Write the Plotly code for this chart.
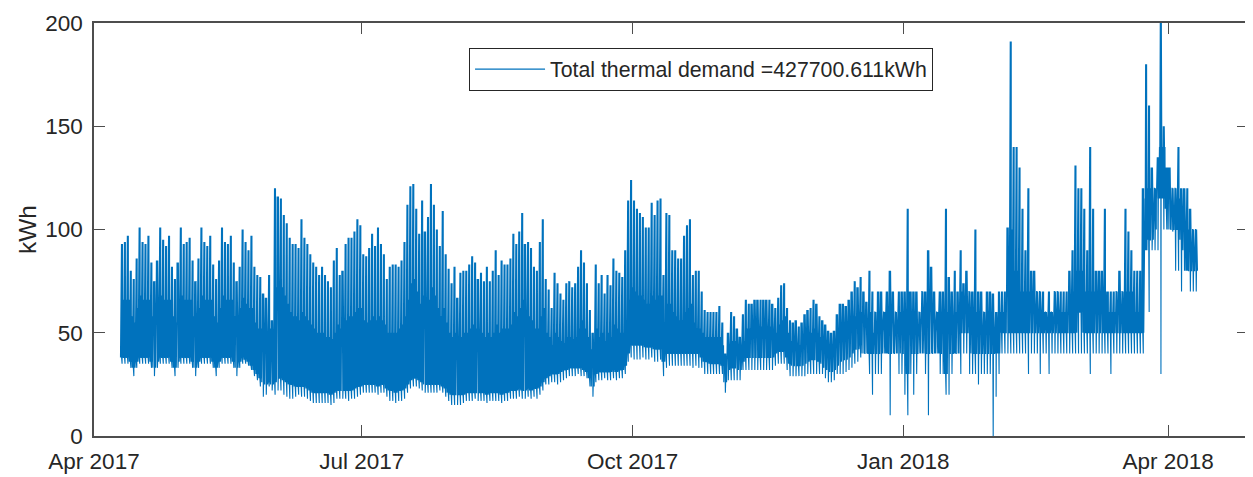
import plotly.graph_objects as go
import pandas as pd

# ---------------- data ----------------
start_date = "2017-04-10"

# daily maximum (kWh), one row per week starting Mon 10 Apr 2017
peak = [
    93, 94, 97, 80, 76, 86, 101,
    94, 93, 97, 84, 75, 85, 101,
    95, 92, 97, 82, 76, 84, 101,
    93, 94, 96, 85, 75, 86, 101,
    94, 92, 97, 83, 76, 85, 101,
    94, 93, 97, 84, 75, 82, 100,
    94, 90, 97, 82, 78, 77, 69,
    67, 78, 56, 120, 116, 115, 107,
    103, 96, 93, 93, 91, 105, 96,
    93, 88, 84, 82, 78, 82, 78,
    75, 72, 85, 91, 78, 80, 93,
    96, 96, 99, 105, 102, 88, 87,
    91, 98, 92, 101, 93, 88, 76,
    82, 83, 83, 82, 85, 94, 112,
    121, 122, 110, 98, 114, 99, 106,
    122, 112, 100, 92, 109, 88, 81,
    74, 82, 67, 79, 80, 80, 83,
    87, 84, 76, 79, 75, 82, 75,
    80, 90, 78, 85, 83, 83, 86,
    98, 93, 99, 108, 93, 94, 91,
    82, 80, 94, 105, 76, 71, 62,
    79, 74, 69, 66, 74, 75, 72,
    74, 82, 90, 84, 74, 61, 50,
    83, 74, 78, 69, 78, 73, 86,
    80, 79, 77, 90, 114, 124, 114,
    110, 108, 106, 101, 101, 113, 107,
    114, 115, 78, 108, 107, 90, 90,
    86, 86, 97, 102, 105, 78, 80,
    80, 70, 61, 60, 60, 60, 60,
    63, 55, 40, 50, 60, 58, 52,
    48, 59, 66, 64, 64, 66, 66,
    66, 66, 66, 66, 64, 62, 67,
    73, 74, 62, 56, 55, 56, 53,
    55, 59, 61, 62, 66, 64, 58,
    56, 54, 51, 50, 51, 59, 64,
    64, 63, 66, 70, 75, 72, 77,
    70, 65, 80, 70, 60, 70, 70,
    60, 70, 80, 70, 60, 70, 70,
    70, 110, 70, 70, 70, 60, 70,
    70, 90, 82, 70, 60, 70, 70,
    110, 77, 70, 80, 70, 90, 74,
    80, 70, 70, 100, 70, 70, 60,
    70, 70, 69, 60, 70, 70, 70,
    101, 191, 140, 140, 130, 110, 90,
    120, 80, 80, 70, 70, 70, 60,
    70, 60, 70, 70, 70, 70, 70,
    80, 90, 131, 120, 120, 110, 90,
    140, 110, 80, 80, 80, 110, 70,
    70, 70, 70, 80, 70, 110, 99,
    90, 80, 80, 80, 120, 180, 160,
    130, 120, 120, 205, 150, 130, 130,
    120, 120, 140, 120, 120, 120, 110,
    100, 100,
]

# daily minimum (kWh)
low = [
    35, 35, 35, 33, 29, 33, 35,
    35, 35, 35, 33, 29, 33, 35,
    35, 35, 35, 33, 29, 33, 35,
    35, 35, 35, 33, 29, 33, 35,
    35, 35, 35, 33, 29, 33, 35,
    35, 35, 35, 33, 29, 33, 35,
    35, 34, 32, 29, 27, 24, 19,
    20, 24, 22, 20, 22, 22, 20,
    19, 18, 18, 19, 20, 19, 19,
    18, 17, 16, 16, 16, 16, 16,
    16, 15, 16, 18, 18, 18, 18,
    17, 18, 18, 19, 20, 21, 21,
    21, 21, 21, 20, 21, 21, 19,
    17, 17, 16, 17, 17, 18, 21,
    23, 24, 24, 23, 22, 21, 21,
    21, 21, 21, 22, 21, 19, 17,
    15, 15, 15, 15, 16, 17, 17,
    17, 18, 17, 17, 17, 16, 17,
    17, 17, 17, 16, 17, 17, 18,
    18, 18, 19, 18, 18, 19, 18,
    19, 18, 20, 22, 25, 25, 26,
    26, 25, 26, 27, 28, 29, 29,
    29, 30, 29, 29, 28, 24, 19,
    26, 27, 27, 28, 27, 27, 28,
    27, 28, 28, 30, 36, 38, 37,
    37, 37, 38, 37, 37, 38, 36,
    36, 37, 29, 33, 34, 34, 34,
    34, 34, 34, 34, 34, 33, 34,
    33, 33, 30, 30, 30, 30, 30,
    30, 30, 21, 27, 27, 27, 27,
    27, 32, 32, 32, 32, 32, 32,
    32, 32, 32, 32, 32, 34, 35,
    35, 35, 32, 29, 29, 29, 29,
    29, 29, 30, 30, 30, 30, 30,
    30, 28, 26, 26, 27, 30, 30,
    30, 31, 32, 33, 35, 36, 38,
    40, 40, 30, 20, 30, 30, 30,
    40, 40, 10, 40, 40, 30, 30,
    20, 10, 30, 20, 30, 40, 40,
    30, 10, 40, 40, 40, 30, 30,
    20, 20, 30, 40, 40, 30, 40,
    40, 30, 30, 30, 25, 30, 30,
    30, 30, 0, 19, 30, 40, 40,
    40, 40, 40, 40, 40, 40, 40,
    30, 40, 40, 40, 30, 40, 40,
    30, 40, 40, 40, 40, 40, 40,
    40, 40, 40, 40, 40, 40, 40,
    30, 40, 40, 40, 40, 40, 40,
    30, 40, 40, 40, 40, 40, 40,
    40, 40, 40, 40, 40, 90, 60,
    90, 90, 90, 30, 100, 100, 100,
    99, 80, 80, 70, 80, 80, 70,
    70, 70,
]

# upper edge of the dense daily band (kWh)
core_hi = [
    66, 66, 66, 58, 55, 62, 68,
    66, 66, 66, 58, 55, 62, 68,
    66, 66, 66, 58, 55, 62, 68,
    66, 66, 66, 58, 55, 62, 68,
    66, 66, 66, 58, 55, 62, 68,
    66, 66, 66, 58, 55, 62, 67,
    64, 62, 62, 55, 52, 52, 50,
    50, 52, 45, 72, 75, 72, 68,
    64, 60, 58, 58, 56, 60, 58,
    56, 54, 52, 50, 50, 50, 48,
    48, 47, 50, 54, 52, 54, 56,
    58, 58, 60, 62, 62, 56, 55,
    56, 58, 56, 58, 56, 54, 50,
    50, 50, 50, 52, 54, 58, 66,
    74, 76, 70, 64, 68, 64, 66,
    72, 68, 62, 58, 62, 55, 50,
    48, 50, 46, 48, 50, 50, 52,
    54, 52, 50, 50, 48, 50, 48,
    50, 54, 50, 52, 52, 52, 54,
    60, 58, 62, 66, 60, 58, 56,
    52, 52, 58, 62, 50, 48, 44,
    50, 48, 46, 45, 48, 48, 47,
    48, 52, 56, 52, 48, 42, 38,
    52, 48, 50, 46, 50, 48, 54,
    52, 50, 50, 56, 66, 72, 70,
    68, 68, 66, 64, 64, 68, 66,
    68, 68, 55, 64, 64, 60, 58,
    56, 56, 60, 62, 64, 55, 52,
    52, 50, 48, 48, 48, 48, 48,
    48, 44, 34, 42, 46, 46, 44,
    42, 46, 52, 52, 52, 53, 53,
    53, 53, 53, 53, 52, 50, 54,
    56, 58, 50, 46, 45, 46, 44,
    45, 48, 50, 50, 52, 52, 48,
    46, 44, 42, 42, 42, 48, 52,
    52, 52, 54, 56, 58, 58, 60,
    60, 60, 60, 50, 60, 60, 60,
    60, 60, 70, 60, 60, 60, 60,
    60, 70, 60, 60, 60, 60, 70,
    60, 70, 70, 60, 60, 60, 60,
    60, 60, 60, 60, 60, 70, 70,
    70, 70, 60, 60, 60, 60, 60,
    60, 60, 60, 50, 60, 60, 60,
    80, 100, 80, 80, 70, 70, 70,
    70, 70, 70, 70, 70, 60, 60,
    60, 60, 70, 70, 60, 60, 60,
    70, 70, 80, 80, 80, 70, 70,
    70, 70, 70, 70, 70, 70, 60,
    60, 60, 70, 70, 70, 70, 70,
    70, 60, 60, 60, 60, 115, 120,
    120, 120, 135, 140, 140, 130, 120,
    120, 120, 115, 115, 110, 100, 100,
    100, 100,
]

# lower edge of the dense daily band (kWh)
core_lo = [
    38, 38, 38, 36, 33, 36, 38,
    38, 38, 38, 36, 33, 36, 38,
    38, 38, 38, 36, 33, 36, 38,
    38, 38, 38, 36, 33, 36, 38,
    38, 38, 38, 36, 33, 36, 38,
    38, 38, 38, 36, 33, 36, 38,
    37, 36, 34, 32, 30, 28, 26,
    25, 26, 25, 26, 28, 28, 27,
    26, 25, 25, 24, 24, 24, 24,
    23, 22, 21, 21, 21, 21, 21,
    21, 20, 21, 22, 22, 22, 22,
    22, 22, 23, 24, 24, 25, 25,
    25, 25, 25, 24, 25, 25, 23,
    22, 22, 21, 22, 22, 23, 25,
    27, 28, 28, 27, 26, 25, 25,
    25, 25, 25, 25, 24, 23, 21,
    20, 20, 20, 20, 20, 21, 21,
    21, 21, 21, 21, 21, 20, 21,
    21, 21, 21, 20, 21, 21, 22,
    22, 22, 23, 22, 22, 23, 22,
    23, 23, 24, 26, 28, 29, 30,
    30, 30, 31, 32, 32, 33, 33,
    33, 33, 33, 32, 31, 28, 24,
    30, 31, 31, 31, 31, 31, 32,
    31, 32, 32, 34, 40, 44, 44,
    44, 44, 44, 43, 43, 43, 42,
    42, 42, 36, 40, 40, 40, 40,
    40, 40, 40, 40, 40, 40, 40,
    40, 38, 36, 36, 35, 35, 35,
    35, 34, 26, 32, 33, 33, 33,
    32, 36, 38, 38, 38, 38, 38,
    38, 38, 38, 38, 38, 40, 41,
    41, 41, 38, 35, 34, 34, 34,
    34, 35, 36, 37, 37, 37, 36,
    35, 33, 32, 31, 32, 34, 36,
    37, 37, 38, 40, 42, 42, 44,
    40, 40, 40, 40, 40, 40, 40,
    50, 40, 40, 40, 40, 50, 40,
    40, 30, 40, 40, 40, 40, 50,
    40, 40, 40, 40, 50, 40, 40,
    30, 40, 40, 40, 40, 50, 50,
    50, 50, 40, 40, 40, 40, 40,
    40, 40, 40, 40, 40, 50, 50,
    50, 50, 50, 50, 50, 50, 50,
    50, 50, 50, 50, 50, 50, 50,
    50, 50, 50, 50, 50, 50, 50,
    50, 50, 50, 60, 60, 50, 50,
    50, 50, 50, 50, 50, 50, 50,
    50, 50, 50, 50, 50, 50, 50,
    50, 50, 50, 50, 50, 90, 95,
    95, 100, 115, 115, 115, 110, 100,
    100, 100, 100, 95, 90, 80, 80,
    80, 80,
]

x_tick_values = ["2017-04-01", "2017-07-01", "2017-10-01", "2018-01-01", "2018-04-01"]
x_tick_labels = ["Apr 2017", "Jul 2017", "Oct 2017", "Jan 2018", "Apr 2018"]
y_tick_values = [0, 50, 100, 150, 200]
series_name = "Total thermal demand =427700.611kWh"
y_title = "kWh"

# ---------------- build the hourly line from the daily readings ----------------
# hour-by-hour order in which each day's read levels are visited
hour_order = ["lo", "hi", "lo", "hi", "lo", "pk", "lo", "hi", "pk", "lo", "hi", "lo",
              "hi", "low", "hi", "lo", "pk", "lo", "hi", "lo", "hi", "lo", "hi", "lo"]
n_days = min(len(peak), len(low), len(core_hi), len(core_lo))
base = pd.Timestamp(start_date)
xs, ys = [], []
for i in range(n_days):
    day = base + pd.Timedelta(days=i)
    level = {"lo": core_lo[i], "hi": core_hi[i], "pk": peak[i], "low": low[i]}
    for h, key in enumerate(hour_order):
        xs.append(day + pd.Timedelta(hours=h))
        ys.append(level[key])

fig = go.Figure()
fig.add_trace(go.Scatter(
    x=xs, y=ys, mode="lines", name=series_name,
    line=dict(color="#0072BD", width=1.1), hoverinfo="skip",
))

axis_col = "#4d4d4d"
txt_col = "#262626"
# page body has an 8px margin, so the figure is 8px smaller than the window
fig.update_layout(
    width=1245, height=469,
    margin=dict(l=86, r=3, t=15, b=37),
    paper_bgcolor="white", plot_bgcolor="white",
    font=dict(family="Liberation Sans, Arial, sans-serif", size=22.5, color=txt_col),
    showlegend=True,
    legend=dict(
        x=0.325, y=0.94, xanchor="left", yanchor="top",
        bgcolor="white", bordercolor=txt_col, borderwidth=1,
        itemwidth=70, font=dict(size=21.3, color=txt_col),
    ),
)
fig.update_xaxes(
    type="date", range=["2017-04-01", "2018-04-28 03:00"],
    tickmode="array", tickvals=x_tick_values, ticktext=x_tick_labels,
    ticks="inside", ticklen=11, tickwidth=1.3, tickcolor=axis_col,
    showline=True, linecolor=axis_col, linewidth=1.5, mirror="ticks",
    showgrid=False, zeroline=False, ticklabelstandoff=4,
)
fig.update_yaxes(
    range=[0, 200], tickmode="array", tickvals=y_tick_values,
    ticks="inside", ticklen=11, tickwidth=1.3, tickcolor=axis_col,
    showline=True, linecolor=axis_col, linewidth=1.5, mirror="ticks",
    showgrid=False, zeroline=False, ticklabelstandoff=5,
    title=dict(text=y_title, standoff=2, font=dict(size=24.5)),
)

fig.write_html("out.html")
